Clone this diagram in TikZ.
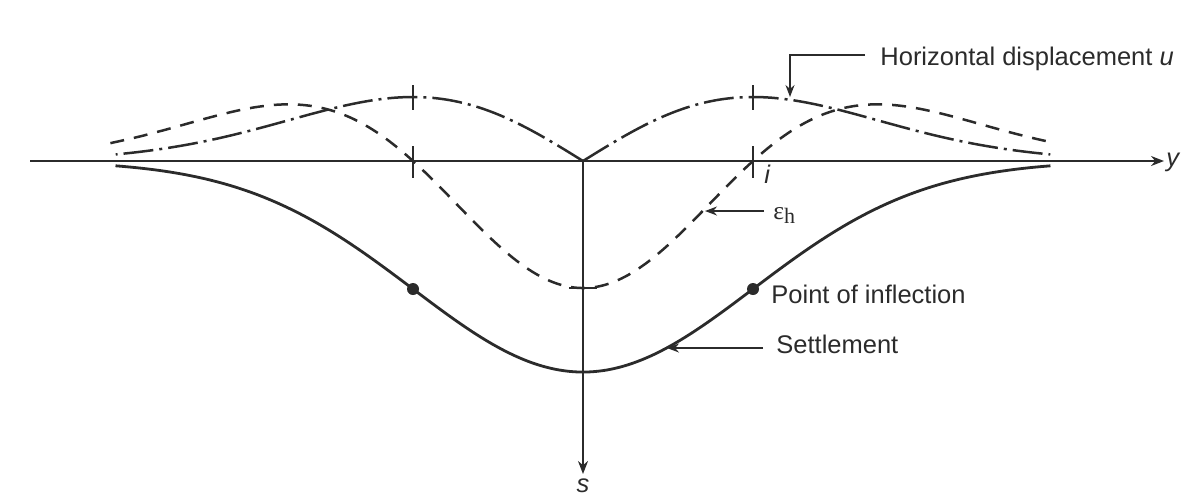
\documentclass[tikz,border=0pt]{standalone}
\usepackage{fontspec}
\setmainfont{Liberation Sans}
\newfontfamily\serf{Liberation Serif}
\usetikzlibrary{arrows.meta}
\definecolor{inkc}{HTML}{2B2B2B}
\begin{document}
\begin{tikzpicture}[x=0.5pt,y=-0.5pt,
  axisline/.style={draw=inkc, line width=0.85pt},
  settle/.style={draw=inkc, line width=1.4pt},
  strain/.style={draw=inkc, line width=1.25pt, dash pattern=on 7pt off 5pt},
  disp/.style={draw=inkc, line width=1.25pt, dash pattern=on 15pt off 3pt on 1.5pt off 3pt},
  lbl/.style={font=\fontsize{12.75}{15}\selectfont, text=inkc, inner sep=0pt},
  leader/.style={draw=inkc, line width=0.65pt, -{Stealth[length=6pt,width=4.5pt]}},
  axtip/.style={-{Stealth[length=6.5pt,width=5pt]}},
  tickmark/.style={draw=inkc, line width=0.65pt},
  dotst/.style={circle, fill=inkc, inner sep=0pt, minimum size=6pt}]
\useasboundingbox (0,0) rectangle (1203,500);
% axes
\coordinate (O) at (583,161);
\coordinate (yl) at (30,161);
\coordinate (ytip) at (1164,161);
\coordinate (stip) at (583,474);
\node[lbl, font=\fontsize{12.75}{15}\selectfont\itshape, anchor=west] (ylab) at (1166,162) {y};
\node[lbl, font=\fontsize{12.75}{15}\selectfont\itshape, anchor=north] (slab) at (583,478) {s};
\draw[axisline, axtip] (yl) -- (ytip);
\draw[axisline, axtip] (O) -- (stip);
% settlement curve
\draw[settle] plot[domain=-2.75:2.75, samples=140, smooth] ({583+170*\x}, {161+211*exp(-\x*\x/2)});
% horizontal strain
\draw[strain] plot[domain=-2.78:2.78, samples=160, smooth] ({583+170*\x}, {161+127*(1-\x*\x)*exp(-\x*\x/2)});
% horizontal displacement
\draw[disp] plot[domain=0:-2.75, samples=90, smooth] ({583+170*\x}, {161+105.5*\x*exp(-\x*\x/2)});
\draw[disp] plot[domain=0:2.75, samples=90, smooth] ({583+170*\x}, {161-105.5*\x*exp(-\x*\x/2)});
% ticks
\draw[tickmark] (413,146) -- (413,178);
\draw[tickmark] (753,146) -- (753,178);
\draw[tickmark] (413,85) -- (413,110);
\draw[tickmark] (753,85) -- (753,110);
\draw[tickmark] (569,288) -- (597,288);
% inflection points
\node[dotst] (p1) at (413,289) {};
\node[dotst] (p2) at (753,289) {};
% labels
\node[lbl, anchor=base west] (hlab) at (880,65) {Horizontal displacement \textit{u}};
\node[lbl, font=\fontsize{12.75}{15}\selectfont\itshape, anchor=base west] (ilab) at (764,183) {i};
\node[lbl, anchor=base west] (elab) at (773,219) {{\serf ε\raisebox{-0.4ex}{\fontsize{11}{12}\selectfont h}}};
\node[lbl, anchor=base west] (plab) at (771,303) {Point of inflection};
\node[lbl, anchor=base west] (stlab) at (776,353) {Settlement};
% leaders
\coordinate (hstart) at (865,55);
\coordinate (hcorner) at (790,55);
\coordinate (hpt) at (790,97);
\draw[leader] (hstart) -- (hcorner) -- (hpt);
\coordinate (estart) at (764,211);
\coordinate (ept) at (705,211);
\draw[leader] (estart) -- (ept);
\coordinate (sstart) at (763,348);
\coordinate (spt) at (667,348);
\draw[leader] (sstart) -- (spt);
\end{tikzpicture}
\end{document}
